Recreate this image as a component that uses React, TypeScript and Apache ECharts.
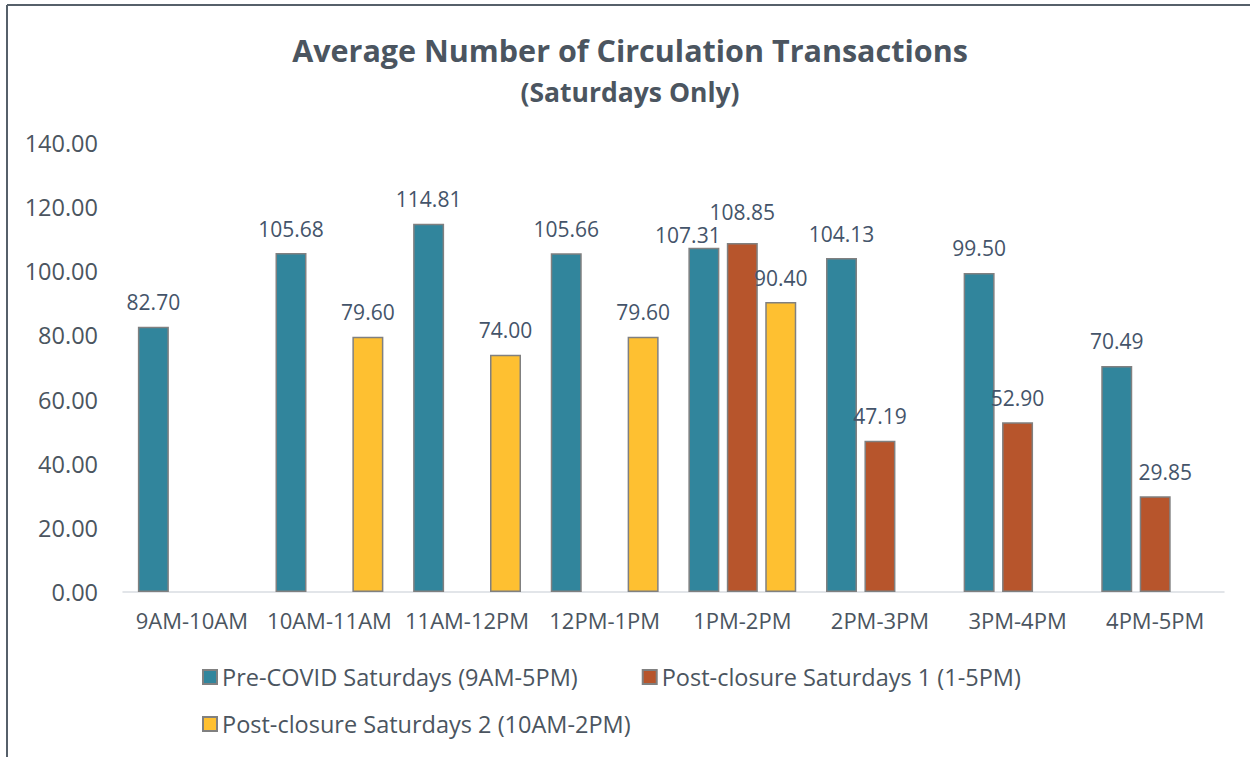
import React, { useEffect, useRef } from "react";
import * as echarts from "echarts";

const categories = ["9AM-10AM", "10AM-11AM", "11AM-12PM", "12PM-1PM", "1PM-2PM", "2PM-3PM", "3PM-4PM", "4PM-5PM"];
const preCovid = [82.70, 105.68, 114.81, 105.66, 107.31, 104.13, 99.50, 70.49];
const postClosure1 = [null, null, null, null, 108.85, 47.19, 52.90, 29.85];
const postClosure2 = [null, 79.60, 74.00, 79.60, 90.40, null, null, null];
const yTicks = [0, 20, 40, 60, 80, 100, 120, 140];
const seriesNames = [
  "Pre-COVID Saturdays (9AM-5PM)",
  "Post-closure Saturdays 1 (1-5PM)",
  "Post-closure Saturdays 2 (10AM-2PM)",
];
const colors = ["#31859c", "#b7552c", "#fec031"];
const FONT = "'Open Sans', sans-serif";

// label nudges (Excel moved a few labels to avoid overlaps)
const labelNudges: Record<string, [number, number]> = {
  "0-4": [-16, 12],
  "1-4": [0, -6],
  "1-7": [10, 0],
};

export default function App() {
  const ref = useRef<HTMLDivElement>(null);
  useEffect(() => {
    if (!ref.current) return;
    const chart = echarts.init(ref.current, null, { renderer: "svg" });
    const mk = (si: number, data: (number | null)[]) => ({
      name: seriesNames[si],
      type: "bar",
      data: data.map((v, i) => {
        const nudge = labelNudges[`${si}-${i}`];
        return nudge ? { value: v, label: { offset: nudge } } : v;
      }),
      barWidth: 31,
      barGap: "24%",
      itemStyle: { color: colors[si], borderColor: "#808080", borderWidth: 1.5 },
      label: {
        show: true,
        position: "top",
        distance: 14,
        color: "#44546a",
        fontSize: 21,
        fontFamily: FONT,
        formatter: (p: any) => (p.value == null ? "" : Number(p.value).toFixed(2)),
      },
    });
    const legendText = { fontFamily: FONT, fontSize: 23.5, color: "#4b5560" };
    chart.setOption({
      animation: false,
      backgroundColor: "#ffffff",
      textStyle: { fontFamily: FONT },
      title: [
        {
          text: "Average Number of Circulation Transactions",
          left: 625,
          textAlign: "center",
          top: 29,
          textStyle: { fontFamily: FONT, fontWeight: "bold", fontSize: 30.5, color: "#4b5560" },
        },
        {
          text: "(Saturdays Only)",
          left: 625,
          textAlign: "center",
          top: 73,
          textStyle: { fontFamily: FONT, fontWeight: "bold", fontSize: 26.5, color: "#4b5560" },
        },
      ],
      legend: [
        {
          data: [seriesNames[0], seriesNames[1]],
          left: 197,
          top: 660,
          icon: "rect",
          itemWidth: 14,
          itemHeight: 14,
          itemGap: 64,
          textStyle: legendText,
        },
        {
          data: [seriesNames[2]],
          left: 197,
          top: 707,
          icon: "rect",
          itemWidth: 14,
          itemHeight: 14,
          textStyle: legendText,
        },
      ],
      grid: { left: 123, right: 26, top: 143, height: 449, containLabel: false },
      xAxis: {
        type: "category",
        data: categories,
        axisLine: { lineStyle: { color: "#d9dde2", width: 1.5 } },
        axisTick: { show: false },
        axisLabel: { color: "#4b5560", fontSize: 22, fontFamily: FONT, margin: 17, interval: 0 },
      },
      yAxis: {
        type: "value",
        min: yTicks[0],
        max: yTicks[yTicks.length - 1],
        interval: yTicks[1] - yTicks[0],
        splitLine: { show: false },
        axisLine: { show: false },
        axisTick: { show: false },
        axisLabel: {
          color: "#4b5560",
          fontSize: 23.5,
          fontFamily: FONT,
          margin: 25,
          formatter: (v: number) => v.toFixed(2),
        },
      },
      graphic: [
        { type: "line", shape: { x1: 7, y1: 5, x2: 7, y2: 757 }, style: { stroke: "#56606a", lineWidth: 2 } },
        { type: "line", shape: { x1: 7, y1: 5, x2: 1250, y2: 5 }, style: { stroke: "#56606a", lineWidth: 2 } },
      ],
      series: [mk(0, preCovid), mk(1, postClosure1), mk(2, postClosure2)],
    });
    return () => chart.dispose();
  }, []);
  return (
    <div
      ref={ref}
      style={{ position: "fixed", left: 0, top: 0, width: 1250, height: 757, background: "#fff" }}
    />
  );
}
